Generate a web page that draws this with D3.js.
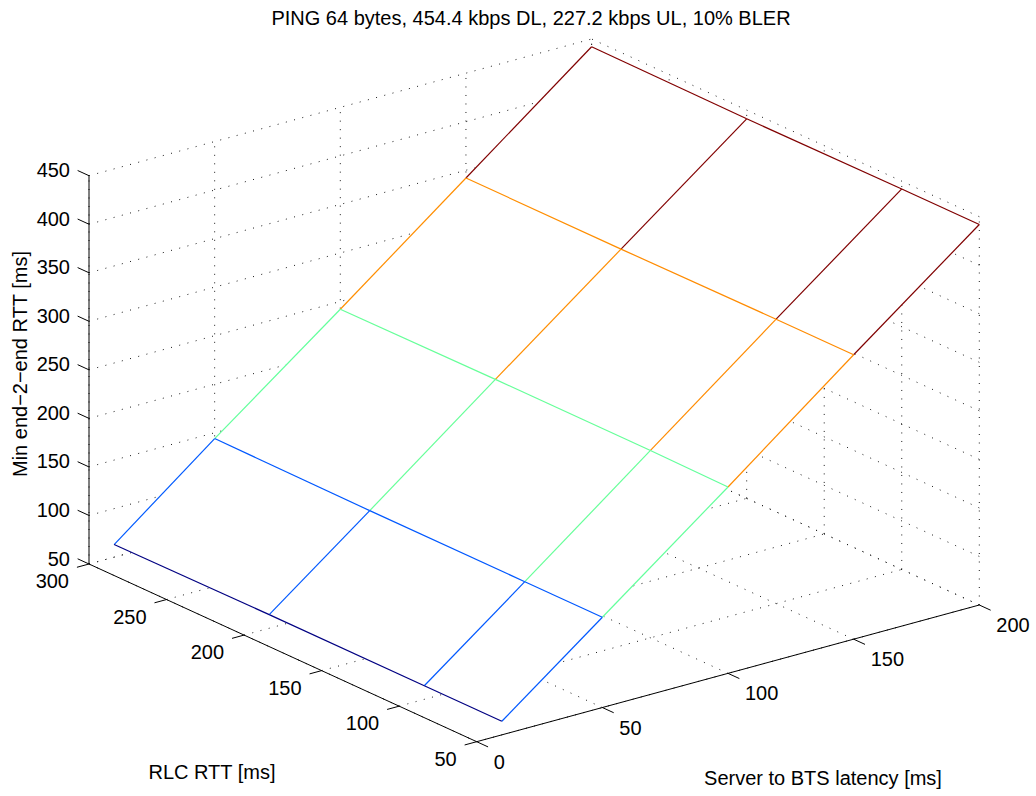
<!DOCTYPE html>
<html>
<head>
<meta charset="utf-8">
<script src="https://cdn.jsdelivr.net/npm/d3@7"></script>
<style>
  html, body { margin: 0; padding: 0; background: #fff; }
  svg { display: block; }
  text { font-family: "Liberation Sans", Arial, Helvetica, sans-serif; fill: #000; }
</style>
</head>
<body>
<svg id="chart" width="1036" height="796"></svg>
<script>
// ---------------- data ----------------
const titleText = "PING 64 bytes, 454.4 kbps DL, 227.2 kbps UL, 10% BLER";
const xLabel = "Server to BTS latency [ms]";
const yLabel = "RLC RTT [ms]";
const zLabel = "Min end\u22122\u2212end RTT [ms]";

// mesh grid
const serverLatency = [10, 50, 100, 150, 200];     // x (Server to BTS latency)
const rlcRtt = [50, 100, 200, 300];                // y (RLC RTT)
// Min end-2-end RTT, one row per server latency, one value per RLC RTT
const rttRow10  = [64, 64, 64, 63];
const rttRow50  = [143, 143, 143, 144];
const rttRow100 = [242, 243, 243, 242];
const rttRow150 = [343, 343, 342, 342];
const rttRow200 = [442, 442, 441, 442];
const minRtt = [rttRow10, rttRow50, rttRow100, rttRow150, rttRow200];

// axes ticks
const xTicks = [0, 50, 100, 150, 200];
const yTicks = [50, 100, 150, 200, 250, 300];
const zTicks = [50, 100, 150, 200, 250, 300, 350, 400, 450];

// ---------------- projection (orthographic, via linear scales) ----------------
const xDomain = [0, 200], yDomain = [50, 300], zDomain = [50, 450];
const sx = d3.scaleLinear().domain(xDomain).range([0, 1]);
const sy = d3.scaleLinear().domain(yDomain).range([0, 1]);
const sz = d3.scaleLinear().domain(zDomain).range([0, 1]);
// screen anchors of the axes box
const origin = [476.7, 741.7];     // (x=0, y=50, z=50)
const xEnd   = [979.3, 605.0];     // (x=200, y=50, z=50)
const yEnd   = [89.0, 564.0];      // (x=0, y=300, z=50)
const zSpan  = 388.3;              // pixels for the full z range
const vX = [xEnd[0] - origin[0], xEnd[1] - origin[1]];
const vY = [yEnd[0] - origin[0], yEnd[1] - origin[1]];
function P(x, y, z) {
  const a = sx(x), b = sy(y), c = sz(z);
  return [origin[0] + a * vX[0] + b * vY[0],
          origin[1] + a * vX[1] + b * vY[1] - c * zSpan];
}
function unit(v) { const l = Math.hypot(v[0], v[1]); return [v[0] / l, v[1] / l]; }
const uX = unit(vX), uY = unit(vY);

// jet colormap
const allZ = minRtt.flat();
const cNorm = d3.scaleLinear().domain(d3.extent(allZ)).range([0, 1]).clamp(true);
function clamp01(v) { return Math.max(0, Math.min(1, v)); }
function jet(z) {
  const t = cNorm(z);
  const r = clamp01(1.5 - Math.abs(4 * t - 3));
  const g = clamp01(1.5 - Math.abs(4 * t - 2));
  const b = clamp01(1.5 - Math.abs(4 * t - 1));
  return d3.rgb(r * 255, g * 255, b * 255).formatHex();
}

const svg = d3.select("#chart");
svg.append("rect").attr("width", 1036).attr("height", 796).attr("fill", "#fff");

const line = d3.line();

// ---------------- grid (dotted) ----------------
const gGrid = svg.append("g")
  .attr("fill", "none").attr("stroke", "#1a1a1a").attr("stroke-width", 1)
  .attr("stroke-dasharray", "1,7.5");
const gridSegs = [];
// floor z=50
xTicks.forEach(x => gridSegs.push([P(x, yDomain[0], zDomain[0]), P(x, yDomain[1], zDomain[0])]));
yTicks.forEach(y => gridSegs.push([P(xDomain[0], y, zDomain[0]), P(xDomain[1], y, zDomain[0])]));
// back wall y=300
xTicks.forEach(x => gridSegs.push([P(x, yDomain[1], zDomain[0]), P(x, yDomain[1], zDomain[1])]));
zTicks.forEach(z => gridSegs.push([P(xDomain[0], yDomain[1], z), P(xDomain[1], yDomain[1], z)]));
// back wall x=200
yTicks.forEach(y => gridSegs.push([P(xDomain[1], y, zDomain[0]), P(xDomain[1], y, zDomain[1])]));
zTicks.forEach(z => gridSegs.push([P(xDomain[1], yDomain[0], z), P(xDomain[1], yDomain[1], z)]));
gGrid.selectAll("path").data(gridSegs).join("path").attr("d", d => line(d));

// ---------------- mesh faces (white, hide what is behind) ----------------
const faces = [];
for (let i = 0; i < serverLatency.length - 1; i++) {
  for (let j = 0; j < rlcRtt.length - 1; j++) {
    faces.push([
      P(serverLatency[i], rlcRtt[j], minRtt[i][j]),
      P(serverLatency[i + 1], rlcRtt[j], minRtt[i + 1][j]),
      P(serverLatency[i + 1], rlcRtt[j + 1], minRtt[i + 1][j + 1]),
      P(serverLatency[i], rlcRtt[j + 1], minRtt[i][j + 1])
    ]);
  }
}
svg.append("g").selectAll("path").data(faces).join("path")
  .attr("d", d => line(d) + "Z")
  .attr("fill", "#fff").attr("stroke", "#fff").attr("stroke-width", 0.8);

// ---------------- mesh edges ----------------
const edges = [];
// edges along server latency (colored by the higher end)
for (let i = 0; i < serverLatency.length - 1; i++) {
  for (let j = 0; j < rlcRtt.length; j++) {
    edges.push({
      p: [P(serverLatency[i], rlcRtt[j], minRtt[i][j]), P(serverLatency[i + 1], rlcRtt[j], minRtt[i + 1][j])],
      c: jet(minRtt[i + 1][j])
    });
  }
}
// edges along RLC RTT
for (let i = 0; i < serverLatency.length; i++) {
  for (let j = 0; j < rlcRtt.length - 1; j++) {
    edges.push({
      p: [P(serverLatency[i], rlcRtt[j], minRtt[i][j]), P(serverLatency[i], rlcRtt[j + 1], minRtt[i][j + 1])],
      c: jet(minRtt[i][j])
    });
  }
}
svg.append("g").attr("fill", "none").attr("stroke-width", 1.2)
  .selectAll("path").data(edges).join("path")
  .attr("d", d => line(d.p)).attr("stroke", d => d.c);

// ---------------- axes ----------------
const gAx = svg.append("g").attr("stroke", "#000").attr("stroke-width", 1).attr("fill", "none");
const tickLen = 12.5;
// z axis at (x=0, y=300)
gAx.append("path").attr("d", line([P(xDomain[0], yDomain[1], zDomain[0]), P(xDomain[0], yDomain[1], zDomain[1])]));
// RLC axis at (x=0, z=50)
gAx.append("path").attr("d", line([P(xDomain[0], yDomain[0], zDomain[0]), P(xDomain[0], yDomain[1], zDomain[0])]));
// Server axis at (y=50, z=50)
gAx.append("path").attr("d", line([P(xDomain[0], yDomain[0], zDomain[0]), P(xDomain[1], yDomain[0], zDomain[0])]));

// z ticks (pointing toward +y)
zTicks.forEach(z => {
  const p = P(xDomain[0], yDomain[1], z);
  gAx.append("path").attr("d", line([p, [p[0] + uY[0] * tickLen, p[1] + uY[1] * tickLen]]));
});
// RLC ticks (pointing toward -x)
yTicks.forEach(y => {
  const p = P(xDomain[0], y, zDomain[0]);
  gAx.append("path").attr("d", line([p, [p[0] - uX[0] * tickLen, p[1] - uX[1] * tickLen]]));
});
// Server ticks (pointing toward -y)
xTicks.forEach(x => {
  const p = P(x, yDomain[0], zDomain[0]);
  gAx.append("path").attr("d", line([p, [p[0] - uY[0] * tickLen, p[1] - uY[1] * tickLen]]));
});

// tick labels
const fs = 20;
const gTxt = svg.append("g").attr("font-size", fs);
zTicks.forEach(z => {
  const p = P(xDomain[0], yDomain[1], z);
  gTxt.append("text").attr("x", p[0] - 19).attr("y", p[1] - 5.5)
    .attr("dy", "0.35em").attr("text-anchor", "end").text(z);
});
yTicks.forEach(y => {
  const p = P(xDomain[0], y, zDomain[0]);
  gTxt.append("text").attr("x", p[0] - 20).attr("y", p[1] + 17)
    .attr("dy", "0.35em").attr("text-anchor", "end").text(y);
});
xTicks.forEach(x => {
  const p = P(x, yDomain[0], zDomain[0]);
  gTxt.append("text").attr("x", p[0] + 17).attr("y", p[1] + 20)
    .attr("dy", "0.35em").attr("text-anchor", "start").text(x);
});

// axis labels
gTxt.append("text").attr("x", 212).attr("y", 772).attr("dy", "0.35em")
  .attr("text-anchor", "middle").text(yLabel);
gTxt.append("text").attr("x", 823).attr("y", 778).attr("dy", "0.35em")
  .attr("text-anchor", "middle").text(xLabel);
gTxt.append("text").attr("transform", "translate(20,364) rotate(-90)").attr("dy", "0.35em")
  .attr("text-anchor", "middle").text(zLabel);

// title
gTxt.append("text").attr("x", 531).attr("y", 18).attr("dy", "0.35em")
  .attr("text-anchor", "middle").text(titleText);
</script>
</body>
</html>
